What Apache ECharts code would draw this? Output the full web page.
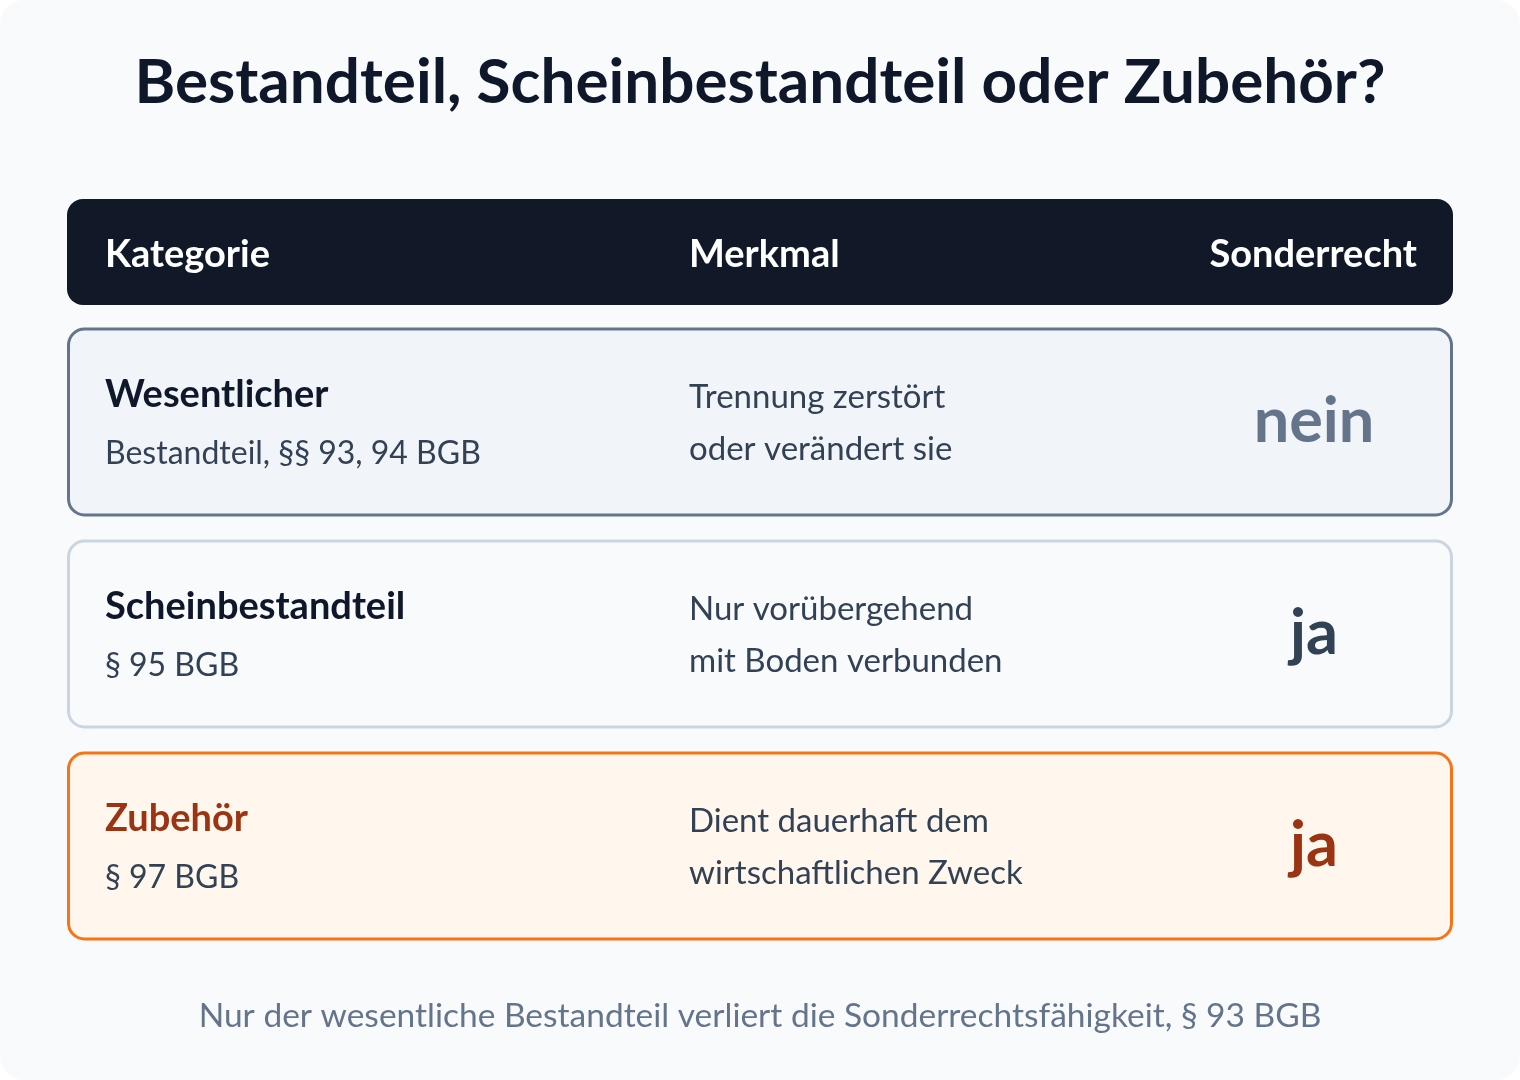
<!DOCTYPE html>
<html><head><meta charset="utf-8">
<script src="https://cdn.jsdelivr.net/npm/echarts@6/dist/echarts.min.js"></script>
<style>html,body{margin:0;padding:0;background:#fff}#c{width:1520px;height:1080px}</style>
</head><body><div id="c"></div>
<script>
const title = "Bestandteil, Scheinbestandteil oder Zubehör?";
const headers = ["Kategorie", "Merkmal", "Sonderrecht"];
const categories = ["Wesentlicher", "Scheinbestandteil", "Zubehör"];
const subtitles = ["Bestandteil, §§ 93, 94 BGB", "§ 95 BGB", "§ 97 BGB"];
const merkmale = [["Trennung zerstört", "oder verändert sie"], ["Nur vorübergehend", "mit Boden verbunden"], ["Dient dauerhaft dem", "wirtschaftlichen Zweck"]];
const sonderrecht = ["nein", "ja", "ja"];
const footer = "Nur der wesentliche Bestandteil verliert die Sonderrechtsfähigkeit, § 93 BGB";

const rowStyles = [
  {fill:"#f1f5f9", stroke:"#64748b", cat:"#0f172a", val:"#64748b"},
  {fill:"#f8fafc", stroke:"#cbd5e1", cat:"#0f172a", val:"#334155"},
  {fill:"#fff7ed", stroke:"#f97316", cat:"#9a3412", val:"#9a3412"}
];
const F = "Lato, 'Noto Sans', sans-serif";
const g = [];
g.push({type:'rect', shape:{x:0,y:0,width:1520,height:1080,r:24}, style:{fill:'#f8fafc'}});
g.push({type:'text', style:{text:title, x:760, y:83, textAlign:'center', textVerticalAlign:'middle', font:`bold 62px ${F}`, fill:'#0f172a'}});
g.push({type:'rect', shape:{x:67,y:199,width:1386,height:106,r:16}, style:{fill:'#111827'}});
const hx = [105, 689, 1417], ha = ['left','left','right'];
headers.forEach((h,i)=>g.push({type:'text', style:{text:h, x:hx[i], y:255, textAlign:ha[i], textVerticalAlign:'middle', font:`bold 38px ${F}`, fill:'#ffffff'}}));
const tops = [329, 541, 753];
categories.forEach((c,i)=>{
  const s = rowStyles[i], t = tops[i];
  g.push({type:'rect', shape:{x:68.5,y:t,width:1383,height:186,r:16}, style:{fill:s.fill, stroke:s.stroke, lineWidth:3}});
  g.push({type:'text', style:{text:c, x:105, y:t+66, textVerticalAlign:'middle', font:`bold 38px ${F}`, fill:s.cat}});
  g.push({type:'text', style:{text:subtitles[i], x:105, y:t+125, textVerticalAlign:'middle', font:`32px ${F}`, fill:'#334155'}});
  merkmale[i].forEach((m,j)=>g.push({type:'text', style:{text:m, x:689, y:t+68+j*52, textVerticalAlign:'middle', font:`33px ${F}`, fill:'#334155'}}));
  g.push({type:'text', style:{text:sonderrecht[i], x:1314, y:t+93, textAlign:'center', textVerticalAlign:'middle', font:`bold 63px ${F}`, fill:s.val}});
});
g.push({type:'text', style:{text:footer, x:760, y:1016, textAlign:'center', textVerticalAlign:'middle', font:`33.5px ${F}`, fill:'#64748b'}});
const chart = echarts.init(document.getElementById('c'));
chart.setOption({graphic:{elements:g}});
</script></body></html>
